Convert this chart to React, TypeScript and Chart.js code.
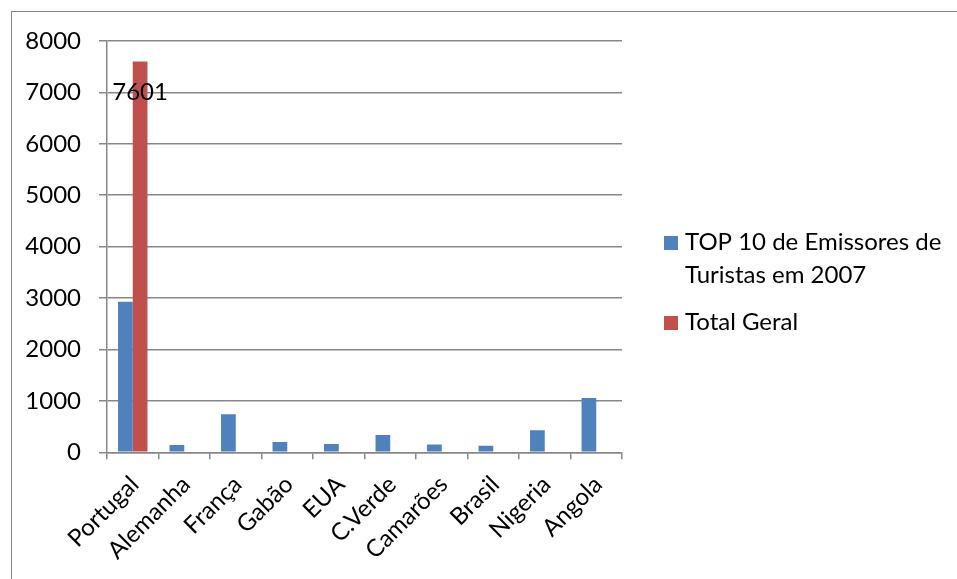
import React, { useEffect, useRef } from "react";
import { Chart, registerables } from "chart.js";

Chart.register(...registerables);

// Visitantes por país de origem
const categories = [
  "Portugal",
  "Alemanha",
  "França",
  "Gabão",
  "EUA",
  "C.Verde",
  "Camarões",
  "Brasil",
  "Nigeria",
  "Angola",
];
const top10Values = [2930, 140, 740, 200, 160, 335, 150, 125, 430, 1055];
const totalGeralValues = [7601, null, null, null, null, null, null, null, null, null];
const seriesNames = ["TOP 10 de Emissores de Turistas em 2007", "Total Geral"];
const seriesColors = ["#4F81BD", "#C0504D"];
const yMin = 0;
const yMax = 8000;
const yStep = 1000;

const FONT = "Lato, 'Open Sans', sans-serif";
const FONT_SIZE = 24;
const AXIS_GREY = "#878787";

function wrapText(ctx: CanvasRenderingContext2D, text: string, maxWidth: number): string[] {
  const words = text.split(" ");
  const lines: string[] = [];
  let current = "";
  for (const w of words) {
    const test = current ? current + " " + w : w;
    if (ctx.measureText(test).width > maxWidth && current) {
      lines.push(current);
      current = w;
    } else {
      current = test;
    }
  }
  if (current) lines.push(current);
  return lines;
}

// Legend at the right, with wrapped series names
const sideLegend = {
  id: "sideLegend",
  afterDraw(chart: any) {
    const ctx: CanvasRenderingContext2D = chart.ctx;
    ctx.save();
    ctx.font = `${FONT_SIZE}px ${FONT}`;
    ctx.fillStyle = "#000";
    ctx.textAlign = "left";
    ctx.textBaseline = "alphabetic";
    const boxX = chart.chartArea.right + 42;
    const textX = boxX + 21;
    let baseline = 250;
    chart.data.datasets.forEach((ds: any) => {
      const lines = wrapText(ctx, ds.label, 275);
      ctx.fillStyle = ds.backgroundColor;
      ctx.fillRect(boxX, baseline - 14, 14, 14);
      ctx.fillStyle = "#000";
      lines.forEach((ln, j) => {
        ctx.fillText(ln, textX, baseline + j * 33);
      });
      baseline += (lines.length - 1) * 33 + 47;
    });
    ctx.restore();
  },
};

// Value label on the Total Geral bar
const valueLabel = {
  id: "valueLabel",
  afterDatasetsDraw(chart: any) {
    const ctx: CanvasRenderingContext2D = chart.ctx;
    const meta = chart.getDatasetMeta(1);
    const ds = chart.data.datasets[1];
    ctx.save();
    ctx.font = `${FONT_SIZE}px ${FONT}`;
    ctx.fillStyle = "#000";
    ctx.textAlign = "center";
    ctx.textBaseline = "alphabetic";
    meta.data.forEach((el: any, i: number) => {
      const v = ds.data[i];
      if (v == null) return;
      ctx.fillText(String(v), el.x, el.y + 38);
    });
    ctx.restore();
  },
};

export default function App() {
  const canvasRef = useRef<HTMLCanvasElement | null>(null);

  useEffect(() => {
    if (!canvasRef.current) return;
    const chart = new Chart(canvasRef.current, {
      type: "bar",
      data: {
        labels: categories,
        datasets: [
          {
            label: seriesNames[0],
            data: top10Values,
            backgroundColor: seriesColors[0],
            categoryPercentage: 2 / 3.5,
            barPercentage: 1,
          },
          {
            label: seriesNames[1],
            data: totalGeralValues,
            backgroundColor: seriesColors[1],
            categoryPercentage: 2 / 3.5,
            barPercentage: 1,
          },
        ],
      },
      options: {
        responsive: false,
        animation: false,
        devicePixelRatio: 1,
        layout: { padding: { top: 41, right: 335, left: 0, bottom: 0 } },
        plugins: {
          legend: { display: false },
          tooltip: { enabled: false },
          title: { display: false },
        },
        scales: {
          x: {
            grid: {
              drawOnChartArea: false,
              drawTicks: true,
              tickLength: 7,
              color: AXIS_GREY,
              lineWidth: 1.5,
              offset: true,
            },
            border: { color: AXIS_GREY, width: 1.5 },
            ticks: {
              autoSkip: false,
              minRotation: 45,
              maxRotation: 45,
              padding: 11,
              labelOffset: 2,
              color: "#000",
              font: { family: FONT, size: FONT_SIZE },
            },
            afterFit: (s: any) => {
              s.height = 126.7;
            },
          },
          y: {
            min: yMin,
            max: yMax,
            ticks: {
              stepSize: yStep,
              padding: 18,
              color: "#000",
              font: { family: FONT, size: FONT_SIZE },
              callback: (v: any) => String(v),
            },
            grid: {
              color: AXIS_GREY,
              lineWidth: 1.5,
              tickLength: 8,
            },
            border: { color: AXIS_GREY, width: 1.5 },
            afterFit: (s: any) => {
              s.width = 107;
            },
          },
        },
      },
      plugins: [valueLabel, sideLegend],
    });
    return () => chart.destroy();
  }, []);

  return (
    <div
      style={{
        position: "fixed",
        left: 0,
        top: 0,
        width: 957,
        height: 579,
        overflow: "hidden",
        background: "#fff",
      }}
    >
      <div
        style={{
          position: "absolute",
          left: 11,
          top: 11,
          width: 980,
          height: 620,
          borderLeft: `1.5px solid ${AXIS_GREY}`,
          borderTop: `1.5px solid ${AXIS_GREY}`,
          boxSizing: "border-box",
        }}
      />
      <canvas
        ref={canvasRef}
        width={957}
        height={579}
        style={{ position: "absolute", left: 0, top: 0 }}
      />
    </div>
  );
}
